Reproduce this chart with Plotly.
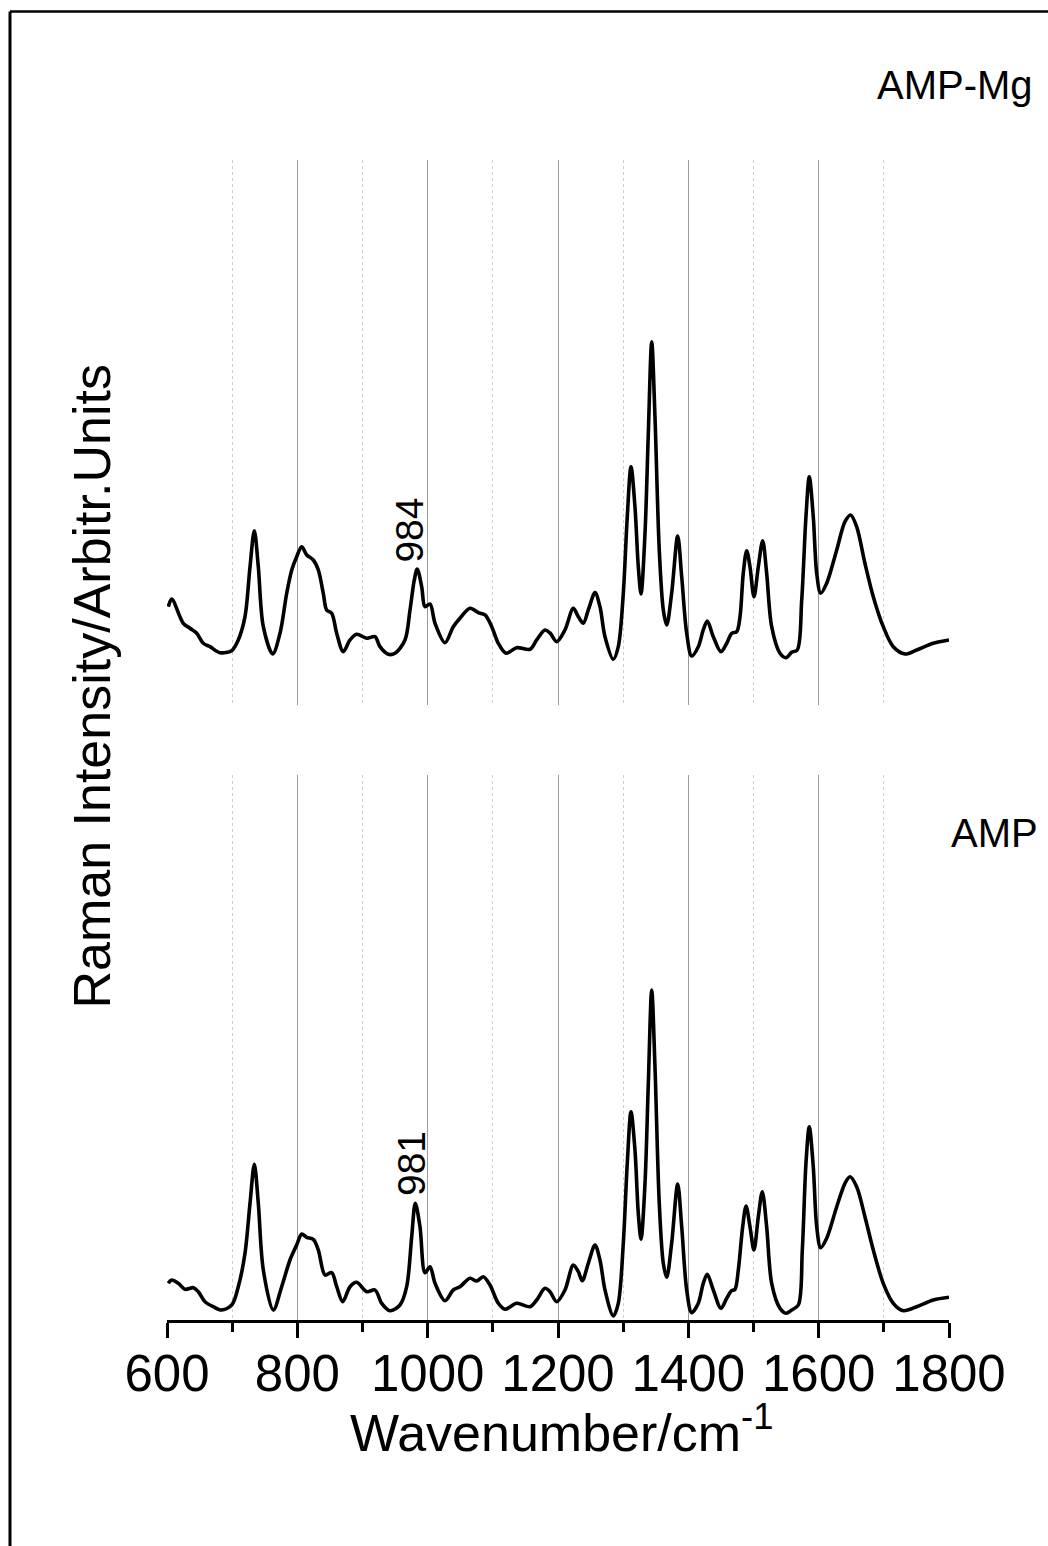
import plotly.graph_objects as go
from plotly.subplots import make_subplots

# Raman spectra, wavenumber (cm^-1) vs intensity (arbitrary units)
wn_mg = [602, 607.2, 625, 635.3, 645.6, 655.7, 666, 681.3, 699.3, 709.4, 719.7, 727.4, 734,
         740.1, 747.8, 762.2, 773.4, 783.7, 791.4, 799, 806.7, 814.4, 824.5, 832.2, 839.8, 845,
         852.7, 860.4, 870.5, 880.8, 891.1, 906.4, 919.2, 926.8, 939.6, 949.9, 965.2, 972.9,
         979.5, 984, 990.8, 995.9, 1003.6, 1011.3, 1026.6, 1039.3, 1049.6, 1064.9, 1077.7, 1088,
         1098.3, 1108.4, 1120.2, 1136.6, 1157, 1167.3, 1180, 1187.7, 1198, 1210.7, 1223.5, 1231.2,
         1238.8, 1246.5, 1256.8, 1264.4, 1272.1, 1284.9, 1292.5, 1300.2, 1306.3, 1312, 1318.1,
         1323.2, 1327.4, 1333.5, 1338.6, 1343.8, 1348.8, 1355.4, 1361.6, 1366.8, 1374.4, 1383.7,
         1389.8, 1397.5, 1405.1, 1415.3, 1422.9, 1429.1, 1438.3, 1450.1, 1458.9, 1466.5, 1474.2,
         1479.3, 1484.3, 1489.5, 1494.6, 1500.7, 1507.4, 1514.1, 1520.2, 1527.9, 1540.6, 1549.9,
         1558.6, 1567.2, 1574, 1580.5, 1585.6, 1591.7, 1597, 1603.1, 1612.3, 1627.7, 1640.4,
         1649.1, 1658.3, 1671, 1683.8, 1699.1, 1714.5, 1732.5, 1750.4, 1775.9, 1800]
int_mg = [98.3, 106, 81.7, 76.7, 71.7, 61.7, 58.3, 52.3, 54.3, 65, 88.3, 138.3, 174.3,
          138.3, 78.3, 51, 71.7, 111.7, 135, 148.3, 158.3, 150, 145, 135, 111.7, 95,
          91.7, 71.7, 53.3, 65, 70.7, 66.7, 68.3, 58.3, 50.7, 51.7, 65, 95,
          125, 136, 118.3, 98.3, 101, 81.7, 62.3, 78.3, 86.7, 96.7, 92.3, 90,
          78.3, 61.7, 51.7, 57.3, 55.7, 65, 75, 72, 63.3, 75, 96.7, 88.3,
          81.7, 95, 112.3, 98.3, 68.3, 45.7, 58.3, 111.7, 188.3, 238.3, 198.3,
          138.3, 111, 171.7, 271.7, 363.3, 288.3, 155, 95, 80, 111.7, 169,
          128.3, 71.7, 49, 58.3, 75, 84, 68.3, 53.3, 61.7, 71.7, 73.3,
          88.3, 131.7, 154.3, 138.3, 108.3, 138.3, 164.3, 131.7, 78.3, 51.7, 47.3,
          52.7, 55, 105, 188.3, 228.3, 188.3, 131.7, 111.7, 121.7, 155, 183.3,
          190, 178.3, 141.7, 108.3, 78.3, 58.3, 51, 55, 61.7, 65]

wn_amp = [602, 607.2, 617.3, 627.6, 640.4, 648, 658.3, 671, 683.9, 699.3, 709.4, 719.7, 727.4,
          734, 740.1, 747.8, 763.1, 776, 788.7, 799, 806.7, 814.4, 824.5, 832.2, 842.5, 852.7,
          860.4, 869.6, 880.8, 891.1, 906.4, 919.2, 929.5, 942.2, 957.5, 967.8, 975.5, 981,
          988.2, 995.9, 1003.6, 1011.3, 1026.6, 1039.3, 1049.6, 1064.9, 1075.2, 1085.4, 1095.6,
          1108.4, 1118.7, 1136.6, 1157, 1167.3, 1180, 1187.7, 1198, 1210.7, 1223.5, 1231.2,
          1237.3, 1246.5, 1256.8, 1264.4, 1272.1, 1284.9, 1292.5, 1300.2, 1306.3, 1312, 1318.1,
          1323.2, 1327.4, 1333.5, 1338.6, 1343.8, 1348.8, 1355.4, 1361.6, 1366.8, 1374.4, 1383.7,
          1389.8, 1397.5, 1405.1, 1415.3, 1422.9, 1429.1, 1438.3, 1450.1, 1458.9, 1466.5, 1471.6,
          1476.7, 1483.4, 1488.6, 1494.6, 1500.7, 1507.4, 1513.5, 1520.2, 1527.9, 1540.6, 1549.9,
          1558.6, 1568.8, 1574.9, 1580.5, 1585.6, 1591.7, 1597, 1603.1, 1612.3, 1627.7, 1640.4,
          1648.1, 1658.3, 1671, 1683.8, 1699.1, 1714.5, 1729.9, 1750.4, 1775.9, 1800]
int_amp = [36.7, 40, 36.7, 30.7, 32.3, 28.3, 18.3, 13.3, 10, 15, 33.3, 66.7, 116.7,
           155.7, 116.7, 50, 10, 33.3, 60, 75, 86, 82.7, 80.7, 70, 45, 47.3,
           33.3, 18.3, 33.3, 37.7, 28.3, 30, 16.7, 9.3, 15, 33.3, 83.3, 116.7,
           93.3, 47.3, 53.3, 36.7, 19.3, 30, 33.3, 41.7, 39, 43.3, 35,
           16.7, 10.7, 16.7, 13.3, 20, 31.7, 28.3, 18.3, 30, 55, 48.3,
           39.3, 56.7, 75, 60, 30, 4, 16.7, 76.7, 156.7, 208.3, 170,
           106.7, 80.7, 136.7, 236.7, 330, 253.3, 116.7, 56.7, 42.7, 76.7, 136,
           93.3, 30, 7.3, 16.7, 36.7, 45.7, 30, 11.7, 21.7, 29.3, 30.7,
           50, 93.3, 114, 93.3, 70, 103.3, 128.3, 93.3, 36.7, 11.7, 6.7,
           10, 15, 70, 156.7, 193.3, 153.3, 93.3, 72.3, 81.7, 113.3, 136.7,
           143.3, 133.3, 103.3, 70, 36.7, 16.7, 9.3, 13.3, 20, 22.7]

# Marked band positions (cm^-1) with their label heights
band_mg, band_mg_y = 984, 174.5
band_amp, band_amp_y = 981, 156

panel_names = ["AMP-Mg", "AMP"]
x_ticks = [600, 800, 1000, 1200, 1400, 1600, 1800]

FONT = "Liberation Sans, Arial, sans-serif"

fig = make_subplots(rows=2, cols=1, shared_xaxes=False, vertical_spacing=0.0603)

line_style = dict(color="black", width=3.6, shape="spline", smoothing=0.9)
fig.add_trace(go.Scatter(x=wn_mg, y=int_mg, mode="lines", line=line_style,
                         showlegend=False, name=panel_names[0]), row=1, col=1)
fig.add_trace(go.Scatter(x=wn_amp, y=int_amp, mode="lines", line=line_style,
                         showlegend=False, name=panel_names[1]), row=2, col=1)

grid_common = dict(
    range=[600, 1800], tickmode="array", tickvals=x_ticks,
    showgrid=True, gridcolor="#9a9a9a", gridwidth=1,
    minor=dict(dtick=100, tick0=600, showgrid=True, gridcolor="#cfcfcf",
               griddash="dot", gridwidth=1),
    zeroline=False,
)

# top panel: grid only
fig.update_xaxes(**grid_common, showline=False, ticks="", showticklabels=False,
                 row=1, col=1)
fig.update_xaxes(row=1, col=1, minor_ticks="")

# bottom panel: axis line, ticks and labels
fig.update_xaxes(**grid_common, row=2, col=1)
fig.update_xaxes(row=2, col=1, showline=True, linecolor="black", linewidth=3,
                 ticks="outside", ticklen=15, tickwidth=2.5, tickcolor="black",
                 ticktext=[str(v) for v in x_ticks], ticklabelstandoff=-8,
                 tickfont=dict(family=FONT, size=51, color="black"),
                 minor_ticks="outside", minor_ticklen=9, minor_tickwidth=2.5,
                 minor_tickcolor="black")

for r in (1, 2):
    fig.update_yaxes(range=[0, 545], visible=False, showgrid=False, zeroline=False,
                     row=r, col=1)

fig.update_layout(
    width=1048, height=1546,
    margin=dict(l=167, r=99, t=160, b=226),
    paper_bgcolor="white", plot_bgcolor="white",
    font=dict(family=FONT, color="black"),
)

fig.update_layout(yaxis=dict(domain=[0.5302, 1.0]), yaxis2=dict(domain=[0.0, 0.4698]))

ann = []
# panel names
ann.append(dict(text=panel_names[0], xref="paper", yref="paper", x=1.0077, y=1.0647,
                xanchor="center", yanchor="middle", showarrow=False,
                font=dict(family=FONT, size=40, color="black")))
ann.append(dict(text=panel_names[1], xref="paper", yref="paper", x=1.0588, y=0.4198,
                xanchor="center", yanchor="middle", showarrow=False,
                font=dict(family=FONT, size=40, color="black")))
# band labels
ann.append(dict(text=str(band_mg), xref="x", yref="y", x=band_mg - 12.5, y=band_mg_y,
                textangle=-90, xanchor="center", yanchor="middle", showarrow=False,
                font=dict(family=FONT, size=39, color="black")))
ann.append(dict(text=str(band_amp), xref="x2", yref="y2", x=band_amp - 6.5, y=band_amp_y,
                textangle=-90, xanchor="center", yanchor="middle", showarrow=False,
                font=dict(family=FONT, size=39, color="black")))
# axis titles
ann.append(dict(text="Raman Intensity/Arbitr.Units", xref="paper", yref="paper",
                x=-0.0959, y=0.5461, textangle=-90, xanchor="center", yanchor="middle",
                showarrow=False, font=dict(family=FONT, size=52, color="black")))
ann.append(dict(text="Wavenumber/cm<sup>-1</sup>", xref="paper", yref="paper",
                x=0.504, y=-0.094, xanchor="center", yanchor="middle",
                showarrow=False, font=dict(family=FONT, size=52, color="black")))
fig.update_layout(annotations=ann)

# frame around the figure
px_to_px = lambda px: (px - 167) / 782
py_to_py = lambda py: (1320 - py) / 1160
fig.add_shape(type="line", xref="paper", yref="paper",
              x0=px_to_px(10), x1=px_to_px(10), y0=py_to_py(11.5), y1=py_to_py(1560),
              line=dict(color="black", width=3))
fig.add_shape(type="line", xref="paper", yref="paper",
              x0=px_to_px(10), x1=px_to_px(1060), y0=py_to_py(11.5), y1=py_to_py(11.5),
              line=dict(color="black", width=2.5))

fig.write_html("out.html")
